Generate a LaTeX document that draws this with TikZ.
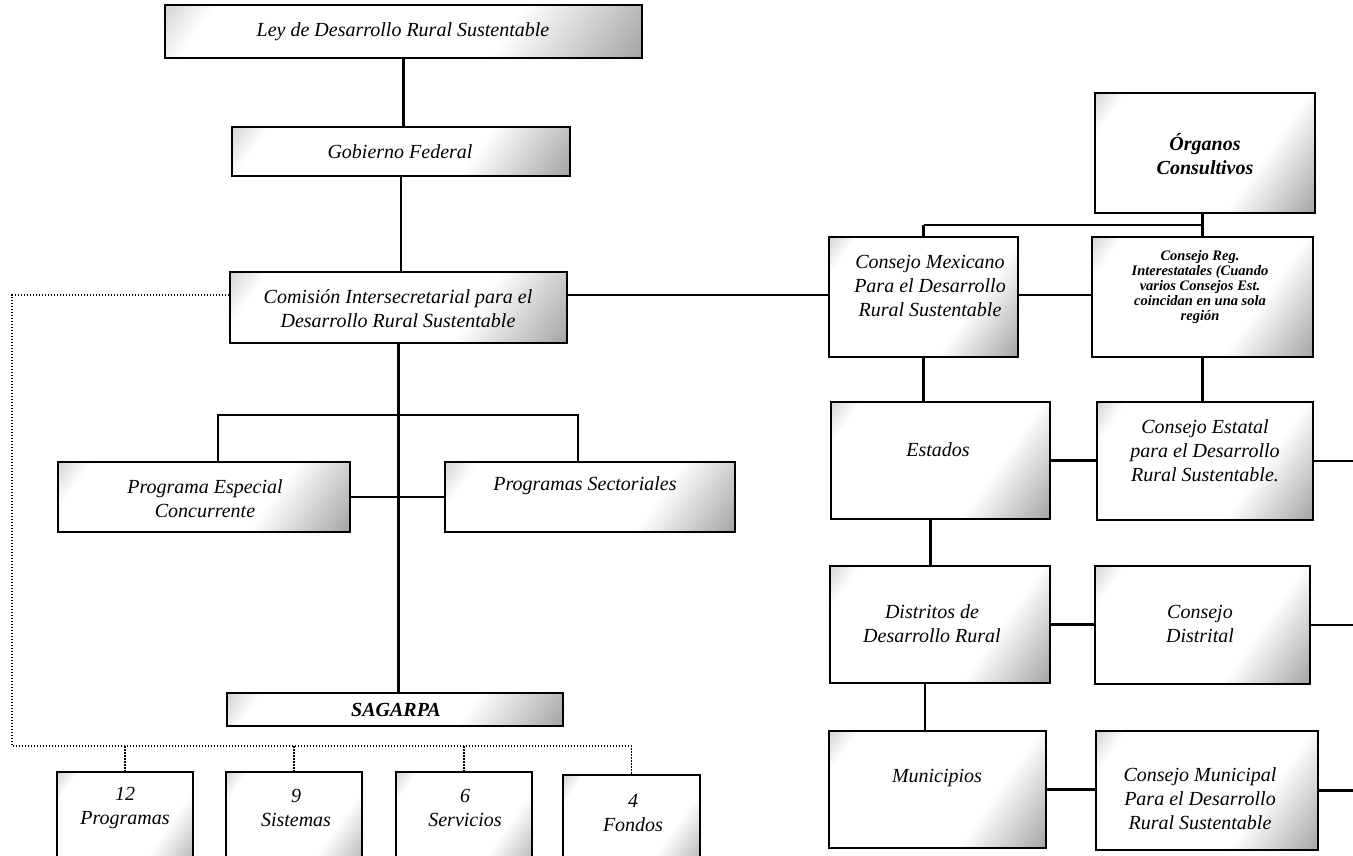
\documentclass[tikz,border=0pt]{standalone}
\usepackage{fontspec}
\setmainfont{Liberation Serif}
\usetikzlibrary{fit,calc}
\pgfdeclarehorizontalshading{corners}{100bp}{color(0bp)=(black!55); color(22bp)=(white); color(64bp)=(white); color(100bp)=(black!62)}
\begin{document}
\begin{tikzpicture}[x=1pt,y=-1pt,
  box/.style={draw, line width=1.6pt, shading=corners, shading angle=-35, inner sep=0pt},
  lbl/.style={align=center, font=\fontsize{20}{24}\selectfont\itshape, inner sep=0pt},
  lblb/.style={align=center, font=\fontsize{20}{24}\selectfont\bfseries\itshape, inner sep=0pt},
  small/.style={align=center, font=\fontsize{14.5}{15}\selectfont\bfseries\itshape, inner sep=0pt},
  conn/.style={line width=2.4pt},
  dots/.style={line width=1.5pt, dash pattern=on 1.5pt off 1.5pt}]
\useasboundingbox (0,0) rectangle (1353,855);
\clip (0,0) rectangle (1353,855);
\fill[white] (0,0) rectangle (1353,855);

% left column boxes
\node[box, fit={(165,5) (642,58)}] (ley) {};
\node[box, fit={(232,127) (570,176)}] (gob) {};
\node[box, fit={(230,272) (567,343)}] (com) {};
\node[box, fit={(58,462) (350,532)}] (pec) {};
\node[box, fit={(445,462) (735,532)}] (ps) {};
\node[box, fit={(227,693) (563,726)}] (sag) {};
\node[box, fit={(57,772) (193,880)}] (p12) {};
\node[box, fit={(226,772) (362,880)}] (s9) {};
\node[box, fit={(396,772) (532,880)}] (s6) {};
\node[box, fit={(563,775) (700,880)}] (f4) {};

% right column boxes
\node[box, fit={(1095,93) (1315,213)}] (org) {};
\node[box, fit={(829,237) (1018,357)}] (cmex) {};
\node[box, fit={(1092,237) (1313,357)}] (creg) {};
\node[box, fit={(831,402) (1050,519)}] (est) {};
\node[box, fit={(1097,402) (1313,520)}] (cest) {};
\node[box, fit={(830,566) (1050,683)}] (dis) {};
\node[box, fit={(1095,566) (1310,684)}] (cdis) {};
\node[box, fit={(829,731) (1046,848)}] (mun) {};
\node[box, fit={(1096,731) (1318,850)}] (cmun) {};

% labels
\node[lbl] (ley-t) at (403,32) {Ley de Desarrollo Rural Sustentable};
\node[lbl] (gob-t) at (400,152) {Gobierno Federal};
\node[lbl] (com-t) at (398,309) {Comisión Intersecretarial para el\\Desarrollo Rural Sustentable};
\node[lbl] (pec-t) at (205,499) {Programa Especial\\Concurrente};
\node[lbl] (ps-t) at (585,486) {Programas Sectoriales};
\node[lblb] (sag-t) at (396,710) {SAGARPA};
\node[lbl] (p12-t) at (125,808) {12\\Programas};
\node[lbl] (s9-t) at (296,808) {9\\Sistemas};
\node[lbl] (s6-t) at (465,808) {6\\Servicios};
\node[lbl] (f4-t) at (633,813) {4\\Fondos};

\node[lblb] (org-t) at (1205,154) {Órganos\\Consultivos};
\node[lbl] (cmex-t) at (930,286) {Consejo Mexicano\\Para el Desarrollo\\Rural Sustentable};
\node[small] (creg-t) at (1200,287) {Consejo Reg.\\Interestatales (Cuando\\varios Consejos Est.\\coincidan en una sola\\región};
\node[lbl] (est-t) at (938,450) {Estados};
\node[lbl] (cest-t) at (1205,451) {Consejo Estatal\\para el Desarrollo\\Rural Sustentable.};
\node[lbl] (dis-t) at (932,624) {Distritos de\\Desarrollo Rural};
\node[lbl] (cdis-t) at (1200,624) {Consejo\\Distrital};
\node[lbl] (mun-t) at (937,778) {Municipios};
\node[lbl] (cmun-t) at (1200,799) {Consejo Municipal\\Para el Desarrollo\\Rural Sustentable};

% left connectors
\draw[conn] (ley.south) -- (ley.south |- gob.north);
\draw[conn] (gob.south) -- (gob.south |- com.north);
\draw[conn] (com.south) -- (com.south |- sag.north);
\coordinate (bl) at (218,415);
\coordinate (brr) at (578,415);
\draw[conn] (bl |- pec.north) -- (bl) -- (brr) -- (brr |- ps.north);
\draw[conn] (pec.east) -- (ps.west);
\coordinate (cy) at (0,295);
\draw[conn] (com.east |- cy) -- (cmex.west |- cy);

% dotted connectors
\coordinate (dl) at (12,295);
\coordinate (bus) at (12,746);
\draw[dots] (com.west |- dl) -- (dl) -- (bus) -- (bus -| f4.north) -- (f4.north);
\draw[dots] (bus -| p12.north) -- (p12.north);
\draw[dots] (bus -| s9.north) -- (s9.north);
\draw[dots] (bus -| s6.north) -- (s6.north);

% right connectors
\coordinate (rb) at (0,225);
\draw[conn] (creg.north |- org.south) -- (creg.north);
\draw[conn] (rb -| cmex.north) -- (rb -| creg.north);
\draw[conn] (rb -| cmex.north) -- (cmex.north);
\draw[conn] (cmex.east |- cy) -- (creg.west |- cy);
\draw[conn] (cmex.south) -- (cmex.south |- est.north);
\draw[conn] (creg.south) -- (creg.south |- cest.north);
\draw[conn] (est.east) -- (cest.west |- est.east);
\draw[conn] (est.south) ++(-10,0) coordinate (es) -- (es |- dis.north);
\draw[conn] (dis.east) -- (cdis.west |- dis.east);
\draw[conn] (dis.south) ++(-15,0) coordinate (ds) -- (ds |- mun.north);
\draw[conn] (mun.east) -- (cmun.west |- mun.east);
\coordinate (edge) at (1353,0);
\draw[conn] (cest.east) -- (cest.east -| edge);
\draw[conn] (cdis.east) -- (cdis.east -| edge);
\draw[conn] (cmun.east) -- (cmun.east -| edge);
\end{tikzpicture}
\end{document}
